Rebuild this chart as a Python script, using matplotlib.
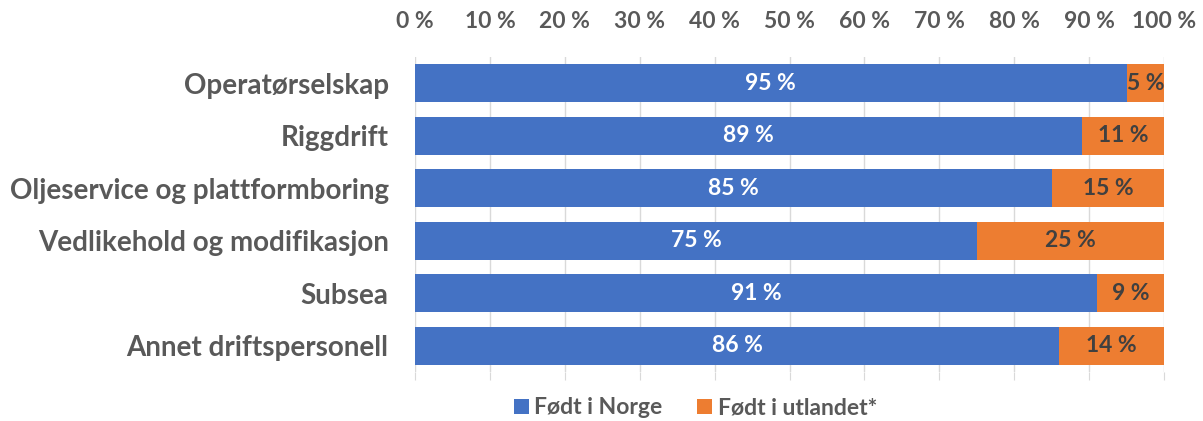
import matplotlib.pyplot as plt
import numpy as np

categories = ["Operatørselskap", "Riggdrift", "Oljeservice og plattformboring",
              "Vedlikehold og modifikasjon", "Subsea", "Annet driftspersonell"]
norge = [95, 89, 85, 75, 91, 86]
utland = [5, 11, 15, 25, 9, 14]
series_names = ["Født i Norge", "Født i utlandet*"]

plt.rcParams['font.family'] = ['Lato', 'DejaVu Sans']
gray = "#595959"
blue = "#4472C4"
orange = "#ED7D31"

fig = plt.figure(figsize=(12.03, 4.21), dpi=100)
ax = fig.add_axes([0.345, 0.1157, 0.6226, 0.7496])

y = np.arange(len(categories))
b1 = ax.barh(y, norge, height=0.72, color=blue, label=series_names[0], zorder=2)
b2 = ax.barh(y, utland, left=norge, height=0.72, color=orange, label=series_names[1], zorder=2)

for i in range(len(categories)):
    ax.text(norge[i] / 2, y[i], f"{norge[i]} %", ha="center", va="center",
            color="white", fontsize=16.5, fontweight="bold")
    ax.text(norge[i] + utland[i] / 2, y[i], f"{utland[i]} %", ha="center", va="center",
            color="#404040", fontsize=16.5, fontweight="bold")

ax.set_xlim(0, 100)
ax.set_ylim(len(categories) - 0.5, -0.5)
ax.set_yticks(y)
ax.set_yticklabels(categories, fontsize=20, fontweight="bold", color=gray)
ax.set_xticks(np.arange(0, 101, 10))
ax.set_xticklabels([f"{v} %" for v in range(0, 101, 10)], fontsize=16.5,
                   fontweight="bold", color=gray)
ax.xaxis.tick_top()
ax.tick_params(axis="x", top=False, bottom=True, labeltop=True, labelbottom=False,
               length=6, color="#D9D9D9", pad=12)
ax.tick_params(axis="y", length=0, pad=19)
ax.grid(axis="x", color="#D9D9D9", linewidth=1, zorder=0)
for s in ax.spines.values():
    s.set_visible(False)

fig.legend(handles=[b1, b2], loc="center", bbox_to_anchor=(0.578, 0.031), ncol=2,
           frameon=False, handlelength=0.65, handleheight=0.65,
           handletextpad=0.25, columnspacing=1.5,
           prop={"weight": "bold", "size": 16.5})
for t in fig.legends[0].get_texts():
    t.set_color(gray)

fig.savefig("out.png", dpi=100)
